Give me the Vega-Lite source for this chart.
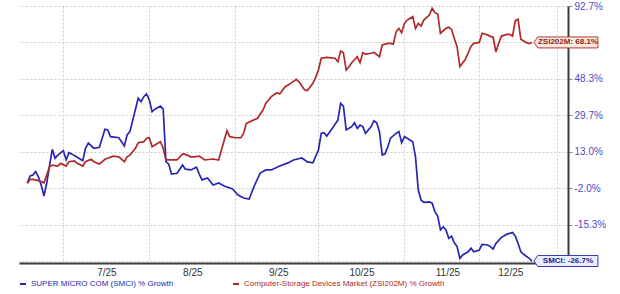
{
 "$schema": "https://vega.github.io/schema/vega-lite/v6.json",
 "width": 549, "height": 255,
 "autosize": {"type": "none"},
 "padding": {"left": 19, "top": 6, "right": 52, "bottom": 33},
 "background": "white",
 "config": {"view": {"stroke": null}, "font": "Liberation Sans", "axis": {"labelOverlap": false}},
 "datasets": {
  "series": [
   {"series":"SMCI","date":"2025-06-18","pct":0.0},{"series":"SMCI","date":"2025-06-19","pct":3.0},{"series":"SMCI","date":"2025-06-20","pct":3.4},{"series":"SMCI","date":"2025-06-21","pct":4.8},{"series":"SMCI","date":"2025-06-22","pct":2.7},{"series":"SMCI","date":"2025-06-23","pct":-0.7},{"series":"SMCI","date":"2025-06-24","pct":-4.9},{"series":"SMCI","date":"2025-06-25","pct":0.1},{"series":"SMCI","date":"2025-06-26","pct":7.1},{"series":"SMCI","date":"2025-06-27","pct":14.1},{"series":"SMCI","date":"2025-06-28","pct":10.3},{"series":"SMCI","date":"2025-06-29","pct":11.6},
   {"series":"SMCI","date":"2025-07-01","pct":13.5},{"series":"SMCI","date":"2025-07-02","pct":9.6},{"series":"SMCI","date":"2025-07-03","pct":12.6},{"series":"SMCI","date":"2025-07-04","pct":12.1},{"series":"SMCI","date":"2025-07-06","pct":10.7},{"series":"SMCI","date":"2025-07-08","pct":9.3},{"series":"SMCI","date":"2025-07-09","pct":14.6},{"series":"SMCI","date":"2025-07-10","pct":16.9},{"series":"SMCI","date":"2025-07-12","pct":14.6},{"series":"SMCI","date":"2025-07-14","pct":15.0},{"series":"SMCI","date":"2025-07-16","pct":23.3},{"series":"SMCI","date":"2025-07-17","pct":23.0},{"series":"SMCI","date":"2025-07-18","pct":19.9},{"series":"SMCI","date":"2025-07-21","pct":19.4},{"series":"SMCI","date":"2025-07-23","pct":15.6},{"series":"SMCI","date":"2025-07-24","pct":20.7},{"series":"SMCI","date":"2025-07-25","pct":22.2},{"series":"SMCI","date":"2025-07-28","pct":38.4},{"series":"SMCI","date":"2025-07-29","pct":36.6},{"series":"SMCI","date":"2025-07-30","pct":39.2},{"series":"SMCI","date":"2025-07-31","pct":40.6},
   {"series":"SMCI","date":"2025-08-01","pct":37.5},{"series":"SMCI","date":"2025-08-02","pct":31.5},{"series":"SMCI","date":"2025-08-03","pct":32.8},{"series":"SMCI","date":"2025-08-05","pct":34.4},{"series":"SMCI","date":"2025-08-06","pct":32.8},{"series":"SMCI","date":"2025-08-07","pct":8.9},{"series":"SMCI","date":"2025-08-08","pct":7.9},{"series":"SMCI","date":"2025-08-09","pct":3.8},{"series":"SMCI","date":"2025-08-11","pct":4.1},{"series":"SMCI","date":"2025-08-13","pct":7.5},{"series":"SMCI","date":"2025-08-14","pct":5.8},{"series":"SMCI","date":"2025-08-16","pct":5.5},{"series":"SMCI","date":"2025-08-18","pct":6.6},{"series":"SMCI","date":"2025-08-19","pct":3.8},{"series":"SMCI","date":"2025-08-20","pct":1.4},{"series":"SMCI","date":"2025-08-22","pct":2.2},{"series":"SMCI","date":"2025-08-24","pct":-0.7},{"series":"SMCI","date":"2025-08-26","pct":0.1},{"series":"SMCI","date":"2025-08-28","pct":-1.1},{"series":"SMCI","date":"2025-08-31","pct":-2.3},
   {"series":"SMCI","date":"2025-09-02","pct":-4.5},{"series":"SMCI","date":"2025-09-04","pct":-5.6},{"series":"SMCI","date":"2025-09-06","pct":-6.0},{"series":"SMCI","date":"2025-09-08","pct":-0.7},{"series":"SMCI","date":"2025-09-10","pct":4.2},{"series":"SMCI","date":"2025-09-12","pct":5.5},{"series":"SMCI","date":"2025-09-14","pct":5.5},{"series":"SMCI","date":"2025-09-17","pct":7.1},{"series":"SMCI","date":"2025-09-20","pct":8.4},{"series":"SMCI","date":"2025-09-22","pct":9.6},{"series":"SMCI","date":"2025-09-25","pct":10.4},{"series":"SMCI","date":"2025-09-27","pct":8.8},{"series":"SMCI","date":"2025-09-29","pct":8.4},
   {"series":"SMCI","date":"2025-10-01","pct":13.8},{"series":"SMCI","date":"2025-10-02","pct":21.4},{"series":"SMCI","date":"2025-10-03","pct":21.7},{"series":"SMCI","date":"2025-10-04","pct":20.2},{"series":"SMCI","date":"2025-10-06","pct":23.7},{"series":"SMCI","date":"2025-10-08","pct":27.5},{"series":"SMCI","date":"2025-10-09","pct":35.8},{"series":"SMCI","date":"2025-10-10","pct":34.4},{"series":"SMCI","date":"2025-10-11","pct":23.0},{"series":"SMCI","date":"2025-10-13","pct":24.5},{"series":"SMCI","date":"2025-10-14","pct":26.3},{"series":"SMCI","date":"2025-10-15","pct":23.7},{"series":"SMCI","date":"2025-10-16","pct":25.2},{"series":"SMCI","date":"2025-10-17","pct":24.5},{"series":"SMCI","date":"2025-10-18","pct":21.4},{"series":"SMCI","date":"2025-10-20","pct":24.5},{"series":"SMCI","date":"2025-10-21","pct":27.2},{"series":"SMCI","date":"2025-10-22","pct":26.3},{"series":"SMCI","date":"2025-10-23","pct":22.2},{"series":"SMCI","date":"2025-10-24","pct":11.6},{"series":"SMCI","date":"2025-10-25","pct":12.1},{"series":"SMCI","date":"2025-10-26","pct":15.3},{"series":"SMCI","date":"2025-10-27","pct":19.2},{"series":"SMCI","date":"2025-10-29","pct":21.4},{"series":"SMCI","date":"2025-10-30","pct":22.2},{"series":"SMCI","date":"2025-10-31","pct":17.1},
   {"series":"SMCI","date":"2025-11-01","pct":19.9},{"series":"SMCI","date":"2025-11-02","pct":19.2},{"series":"SMCI","date":"2025-11-04","pct":17.6},{"series":"SMCI","date":"2025-11-05","pct":10.9},{"series":"SMCI","date":"2025-11-06","pct":-2.7},{"series":"SMCI","date":"2025-11-07","pct":-6.3},{"series":"SMCI","date":"2025-11-08","pct":-7.2},{"series":"SMCI","date":"2025-11-10","pct":-7.0},{"series":"SMCI","date":"2025-11-11","pct":-7.5},{"series":"SMCI","date":"2025-11-12","pct":-10.6},{"series":"SMCI","date":"2025-11-13","pct":-12.2},{"series":"SMCI","date":"2025-11-14","pct":-17.0},{"series":"SMCI","date":"2025-11-15","pct":-16.0},{"series":"SMCI","date":"2025-11-16","pct":-17.0},{"series":"SMCI","date":"2025-11-17","pct":-19.6},{"series":"SMCI","date":"2025-11-18","pct":-18.9},{"series":"SMCI","date":"2025-11-19","pct":-21.0},{"series":"SMCI","date":"2025-11-20","pct":-22.2},{"series":"SMCI","date":"2025-11-21","pct":-25.9},{"series":"SMCI","date":"2025-11-22","pct":-24.8},{"series":"SMCI","date":"2025-11-24","pct":-23.8},{"series":"SMCI","date":"2025-11-25","pct":-22.7},{"series":"SMCI","date":"2025-11-26","pct":-23.8},{"series":"SMCI","date":"2025-11-28","pct":-23.3},{"series":"SMCI","date":"2025-11-29","pct":-21.5},
   {"series":"SMCI","date":"2025-12-01","pct":-21.7},{"series":"SMCI","date":"2025-12-02","pct":-22.2},{"series":"SMCI","date":"2025-12-03","pct":-23.0},{"series":"SMCI","date":"2025-12-04","pct":-21.2},{"series":"SMCI","date":"2025-12-06","pct":-19.3},{"series":"SMCI","date":"2025-12-08","pct":-18.3},{"series":"SMCI","date":"2025-12-10","pct":-17.8},{"series":"SMCI","date":"2025-12-11","pct":-18.9},{"series":"SMCI","date":"2025-12-12","pct":-21.2},{"series":"SMCI","date":"2025-12-13","pct":-23.8},{"series":"SMCI","date":"2025-12-14","pct":-24.6},{"series":"SMCI","date":"2025-12-16","pct":-25.9},{"series":"SMCI","date":"2025-12-17","pct":-26.7},

   {"series":"ZSI202M","date":"2025-06-18","pct":0.0},{"series":"ZSI202M","date":"2025-06-19","pct":1.6},{"series":"ZSI202M","date":"2025-06-20","pct":1.6},{"series":"ZSI202M","date":"2025-06-22","pct":1.1},{"series":"ZSI202M","date":"2025-06-24","pct":0.2},{"series":"ZSI202M","date":"2025-06-25","pct":3.4},{"series":"ZSI202M","date":"2025-06-26","pct":6.8},{"series":"ZSI202M","date":"2025-06-27","pct":7.5},{"series":"ZSI202M","date":"2025-06-29","pct":7.1},{"series":"ZSI202M","date":"2025-06-30","pct":8.2},
   {"series":"ZSI202M","date":"2025-07-02","pct":7.1},{"series":"ZSI202M","date":"2025-07-03","pct":8.9},{"series":"ZSI202M","date":"2025-07-05","pct":9.2},{"series":"ZSI202M","date":"2025-07-06","pct":8.2},{"series":"ZSI202M","date":"2025-07-08","pct":7.1},{"series":"ZSI202M","date":"2025-07-09","pct":8.9},{"series":"ZSI202M","date":"2025-07-11","pct":9.9},{"series":"ZSI202M","date":"2025-07-12","pct":8.9},{"series":"ZSI202M","date":"2025-07-14","pct":7.9},{"series":"ZSI202M","date":"2025-07-16","pct":9.9},{"series":"ZSI202M","date":"2025-07-17","pct":10.3},{"series":"ZSI202M","date":"2025-07-19","pct":11.2},{"series":"ZSI202M","date":"2025-07-21","pct":10.9},{"series":"ZSI202M","date":"2025-07-23","pct":8.9},{"series":"ZSI202M","date":"2025-07-24","pct":10.9},{"series":"ZSI202M","date":"2025-07-25","pct":11.6},{"series":"ZSI202M","date":"2025-07-27","pct":14.6},{"series":"ZSI202M","date":"2025-07-28","pct":17.1},{"series":"ZSI202M","date":"2025-07-30","pct":17.6},{"series":"ZSI202M","date":"2025-07-31","pct":19.2},
   {"series":"ZSI202M","date":"2025-08-01","pct":19.4},{"series":"ZSI202M","date":"2025-08-02","pct":15.3},{"series":"ZSI202M","date":"2025-08-03","pct":16.1},{"series":"ZSI202M","date":"2025-08-05","pct":17.6},{"series":"ZSI202M","date":"2025-08-06","pct":14.6},{"series":"ZSI202M","date":"2025-08-07","pct":9.6},{"series":"ZSI202M","date":"2025-08-08","pct":9.6},{"series":"ZSI202M","date":"2025-08-10","pct":9.6},{"series":"ZSI202M","date":"2025-08-11","pct":9.6},{"series":"ZSI202M","date":"2025-08-13","pct":12.1},{"series":"ZSI202M","date":"2025-08-14","pct":11.9},{"series":"ZSI202M","date":"2025-08-16","pct":10.9},{"series":"ZSI202M","date":"2025-08-17","pct":10.9},{"series":"ZSI202M","date":"2025-08-19","pct":11.2},{"series":"ZSI202M","date":"2025-08-21","pct":9.6},{"series":"ZSI202M","date":"2025-08-24","pct":10.0},{"series":"ZSI202M","date":"2025-08-26","pct":9.6},{"series":"ZSI202M","date":"2025-08-27","pct":13.8},{"series":"ZSI202M","date":"2025-08-29","pct":22.6},{"series":"ZSI202M","date":"2025-08-30","pct":19.9},
   {"series":"ZSI202M","date":"2025-09-01","pct":19.4},{"series":"ZSI202M","date":"2025-09-03","pct":19.4},{"series":"ZSI202M","date":"2025-09-04","pct":21.4},{"series":"ZSI202M","date":"2025-09-05","pct":26.0},{"series":"ZSI202M","date":"2025-09-07","pct":27.2},{"series":"ZSI202M","date":"2025-09-09","pct":28.3},{"series":"ZSI202M","date":"2025-09-11","pct":32.4},{"series":"ZSI202M","date":"2025-09-12","pct":35.8},{"series":"ZSI202M","date":"2025-09-14","pct":39.2},{"series":"ZSI202M","date":"2025-09-16","pct":41.2},{"series":"ZSI202M","date":"2025-09-17","pct":40.6},{"series":"ZSI202M","date":"2025-09-19","pct":44.3},{"series":"ZSI202M","date":"2025-09-21","pct":46.0},{"series":"ZSI202M","date":"2025-09-23","pct":48.1},{"series":"ZSI202M","date":"2025-09-24","pct":46.8},{"series":"ZSI202M","date":"2025-09-26","pct":42.6},{"series":"ZSI202M","date":"2025-09-27","pct":42.3},{"series":"ZSI202M","date":"2025-09-29","pct":46.0},{"series":"ZSI202M","date":"2025-09-30","pct":49.1},
   {"series":"ZSI202M","date":"2025-10-01","pct":53.1},{"series":"ZSI202M","date":"2025-10-02","pct":59.5},{"series":"ZSI202M","date":"2025-10-04","pct":60.0},{"series":"ZSI202M","date":"2025-10-07","pct":59.5},{"series":"ZSI202M","date":"2025-10-08","pct":57.6},{"series":"ZSI202M","date":"2025-10-09","pct":63.4},{"series":"ZSI202M","date":"2025-10-10","pct":62.5},{"series":"ZSI202M","date":"2025-10-11","pct":53.1},{"series":"ZSI202M","date":"2025-10-12","pct":54.9},{"series":"ZSI202M","date":"2025-10-13","pct":57.1},{"series":"ZSI202M","date":"2025-10-15","pct":60.3},{"series":"ZSI202M","date":"2025-10-16","pct":57.1},{"series":"ZSI202M","date":"2025-10-17","pct":62.5},{"series":"ZSI202M","date":"2025-10-18","pct":61.8},{"series":"ZSI202M","date":"2025-10-20","pct":62.2},{"series":"ZSI202M","date":"2025-10-21","pct":62.7},{"series":"ZSI202M","date":"2025-10-23","pct":60.3},{"series":"ZSI202M","date":"2025-10-24","pct":66.7},{"series":"ZSI202M","date":"2025-10-26","pct":67.6},{"series":"ZSI202M","date":"2025-10-27","pct":67.6},{"series":"ZSI202M","date":"2025-10-28","pct":67.2},{"series":"ZSI202M","date":"2025-10-29","pct":75.3},{"series":"ZSI202M","date":"2025-10-30","pct":77.6},{"series":"ZSI202M","date":"2025-10-31","pct":74.7},
   {"series":"ZSI202M","date":"2025-11-01","pct":81.0},{"series":"ZSI202M","date":"2025-11-02","pct":83.2},{"series":"ZSI202M","date":"2025-11-04","pct":85.5},{"series":"ZSI202M","date":"2025-11-05","pct":77.6},{"series":"ZSI202M","date":"2025-11-06","pct":81.0},{"series":"ZSI202M","date":"2025-11-07","pct":79.2},{"series":"ZSI202M","date":"2025-11-08","pct":83.2},{"series":"ZSI202M","date":"2025-11-10","pct":86.6},{"series":"ZSI202M","date":"2025-11-11","pct":91.1},{"series":"ZSI202M","date":"2025-11-12","pct":88.2},{"series":"ZSI202M","date":"2025-11-13","pct":87.3},{"series":"ZSI202M","date":"2025-11-14","pct":74.3},{"series":"ZSI202M","date":"2025-11-16","pct":77.6},{"series":"ZSI202M","date":"2025-11-17","pct":78.3},{"series":"ZSI202M","date":"2025-11-18","pct":76.9},{"series":"ZSI202M","date":"2025-11-19","pct":70.8},{"series":"ZSI202M","date":"2025-11-20","pct":65.8},{"series":"ZSI202M","date":"2025-11-21","pct":55.0},{"series":"ZSI202M","date":"2025-11-23","pct":58.9},{"series":"ZSI202M","date":"2025-11-25","pct":65.9},{"series":"ZSI202M","date":"2025-11-26","pct":67.6},{"series":"ZSI202M","date":"2025-11-28","pct":68.1},{"series":"ZSI202M","date":"2025-11-29","pct":74.3},
   {"series":"ZSI202M","date":"2025-12-01","pct":73.2},{"series":"ZSI202M","date":"2025-12-02","pct":72.2},{"series":"ZSI202M","date":"2025-12-03","pct":71.6},{"series":"ZSI202M","date":"2025-12-04","pct":62.9},{"series":"ZSI202M","date":"2025-12-05","pct":67.6},{"series":"ZSI202M","date":"2025-12-06","pct":72.4},{"series":"ZSI202M","date":"2025-12-08","pct":73.5},{"series":"ZSI202M","date":"2025-12-09","pct":73.5},{"series":"ZSI202M","date":"2025-12-10","pct":72.4},{"series":"ZSI202M","date":"2025-12-11","pct":82.8},{"series":"ZSI202M","date":"2025-12-12","pct":83.7},{"series":"ZSI202M","date":"2025-12-13","pct":70.2},{"series":"ZSI202M","date":"2025-12-15","pct":68.0},{"series":"ZSI202M","date":"2025-12-16","pct":67.5},{"series":"ZSI202M","date":"2025-12-17","pct":68.1}
  ],
  "ends": [
   {"series":"ZSI202M","date":"2025-12-17","pct":68.1,"label":"ZSI202M: 68.1%"},
   {"series":"SMCI","date":"2025-12-17","pct":-26.7,"label":"SMCI: -26.7%"}
  ]
 },
 "encoding": {
  "x": {"field": "date", "type": "temporal",
   "scale": {"domain": [{"year":2025,"month":6,"date":15,"utc":true},{"year":2025,"month":12,"date":30,"utc":true}]},
   "axis": {"title": null, "values": [{"year":2025,"month":7,"date":1,"utc":true},{"year":2025,"month":8,"date":1,"utc":true},{"year":2025,"month":9,"date":1,"utc":true},{"year":2025,"month":10,"date":1,"utc":true},{"year":2025,"month":11,"date":1,"utc":true},{"year":2025,"month":11,"date":28,"utc":true},{"year":2025,"month":12,"date":26,"utc":true}],
    "labelExpr": "utcdate(datum.value) == 26 ? '' : (utcdate(datum.value) == 28 ? '12/25' : utcFormat(datum.value, '%-m/%y'))",
    "labelOffset": {"condition": {"test": "utcdate(datum.value) == 28", "value": 31}, "value": 43},
    "offset": 2, "ticks": false, "tickSize": 0, "labelPadding": 4, "labelFontSize": 10, "labelColor": "#333333", "labelFont": "Liberation Sans",
    "labelOverlap": false, "labelFlush": false, "labelBound": false,
    "domainColor": "#3a3a3a", "domainWidth": 2,
    "grid": true, "gridColor": "#cccccc", "gridDash": [2, 2], "gridWidth": 1}
  },
  "y": {"field": "pct", "type": "quantitative",
   "scale": {"domain": [-26.7, -15.3, -2.0, 13.0, 29.7, 48.3, 68.1, 92.7], "range": [255, 218.571, 182.143, 145.714, 109.286, 72.857, 36.429, 0], "nice": false, "zero": false},
   "axis": {"title": null, "orient": "right", "values": [-26.7, -15.3, -2.0, 13.0, 29.7, 48.3, 68.1, 92.7],
    "labelExpr": "(datum.value == 68.1 || datum.value == -26.7) ? '' : replace(format(datum.value, '.1f'), '\u2212', '-') + '%'",
    "labelColor": "#4c4cc4", "labelFontSize": 10, "labelFont": "Liberation Sans", "labelPadding": 2,
    "tickColor": "#8888aa", "tickSize": 4, "labelOverlap": false, "labelFlush": false, "labelBound": false,
    "domainColor": "#3a3a3a", "domainWidth": 2,
    "grid": true, "gridColor": "#cccccc", "gridDash": [2, 2], "gridWidth": 1}
  }
 },
 "layer": [
  {
   "data": {"name": "series"},
   "mark": {"type": "line", "strokeWidth": 1.7, "interpolate": "linear"},
   "encoding": {
    "color": {"field": "series", "type": "nominal",
     "scale": {"domain": ["SMCI", "ZSI202M"], "range": ["#2626b0", "#b02828"]},
     "legend": {"title": null, "orient": "bottom", "direction": "horizontal", "offset": 3,
      "symbolType": "stroke", "symbolSize": 36, "symbolStrokeWidth": 2, "labelFontSize": 8, "labelFont": "Liberation Sans", "labelLimit": 0, "columnPadding": 55,
      "labelExpr": "datum.label == 'SMCI' ? 'SUPER MICRO COM (SMCI) % Growth' : 'Computer-Storage Devices Market (ZSI202M) % Growth'",
      "encode": {"labels": {"update": {"fill": {"scale": "color", "field": "value"}}}}}
    }
   }
  },
  {
   "data": {"name": "ends"},
   "mark": {"type": "point", "shape": "M-1,0L-0.88,-0.172L1,-0.172L1,0.172L-0.88,0.172Z", "size": 4096, "filled": true, "opacity": 1, "xOffset": 34, "strokeWidth": 1},
   "encoding": {
    "fill": {"condition": {"test": "datum.series == 'SMCI'", "value": "#ebebfb"}, "value": "#fbe8da"},
    "stroke": {"condition": {"test": "datum.series == 'SMCI'", "value": "#3a3ab4"}, "value": "#b43a3a"}
   }
  },
  {
   "data": {"name": "ends"},
   "mark": {"type": "text", "xOffset": 36, "fontSize": 8, "fontWeight": "bold", "font": "Liberation Sans", "align": "center", "baseline": "middle"},
   "encoding": {
    "text": {"field": "label"},
    "color": {"condition": {"test": "datum.series == 'SMCI'", "value": "#1e1e8c"}, "value": "#8c1e1e"}
   }
  }
 ]
}
